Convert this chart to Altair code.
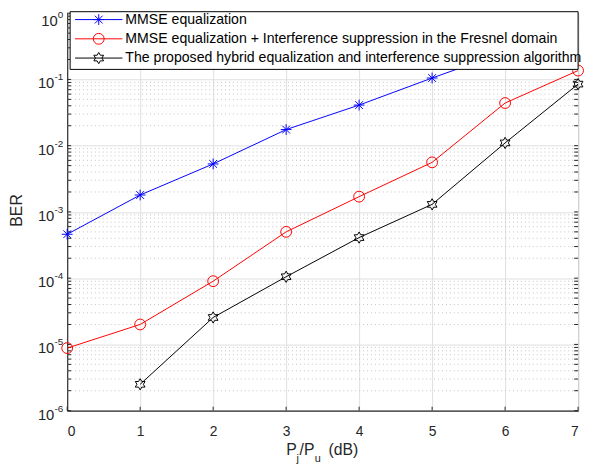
import math
import altair as alt
import pandas as pd

# ---------------- data ----------------
x_vals = [0, 1, 2, 3, 4, 5, 6]
mmse = [4.6e-4, 1.8e-3, 5.3e-3, 1.75e-2, 4.1e-2, 0.105, 0.26]
fresnel_x = [0, 1, 2, 3, 4, 5, 6, 7]
fresnel = [8.8e-6, 2.0e-5, 9.0e-5, 5.0e-4, 1.7e-3, 5.6e-3, 0.044, 0.136]
hybrid_x = [1, 2, 3, 4, 5, 6, 7]
hybrid = [2.5e-6, 2.55e-5, 1.05e-4, 4.1e-4, 1.3e-3, 0.011, 0.085]

labels = [
    "MMSE equalization",
    "MMSE equalization + Interference suppression in the Fresnel domain",
    "The proposed hybrid equalization and interference suppression algorithm",
]
x_ticks = [0, 1, 2, 3, 4, 5, 6, 7]
y_exponents = [-6, -5, -4, -3, -2, -1, 0]
y_major = [10.0 ** e for e in y_exponents]
y_minor = [m * 10.0 ** k for k in range(-6, 0) for m in range(2, 10)]

# ---------------- styles ----------------
W, H = 518, 403
AX = "#262626"
FONT = "Liberation Sans"

asterisk = "M-1,0L1,0M0,-1L0,1M-0.72,-0.72L0.72,0.72M-0.72,0.72L0.72,-0.72"
pts = []
for i in range(12):
    ang = math.pi / 2 + i * math.pi / 6
    r = 1.0 if i % 2 == 0 else 0.577
    pts.append((r * math.cos(ang), -r * math.sin(ang)))
hexagram = "M" + "L".join(f"{px:.3f},{py:.3f}" for px, py in pts) + "Z"

series = [
    (x_vals, mmse, "#0000ff", asterisk, 120),
    (fresnel_x, fresnel, "#ff0000", "circle", 120),
    (hybrid_x, hybrid, "#000000", hexagram, 130),
]

xscale = alt.Scale(domain=[0, 7], nice=False, zero=False)
yscale = alt.Scale(type="log", domain=[1e-6, 1], nice=False)

yaxis = alt.Axis(
    values=y_major, grid=True, gridColor="#dedede", gridWidth=1, ticks=False,
    labels=False, domainColor=AX, title=None,
)
xaxis = alt.Axis(
    values=x_ticks, grid=True, gridColor="#dedede", gridWidth=1, ticks=False,
    labelFontSize=14, labelColor=AX, labelPadding=14, labelFont=FONT,
    domainColor=AX, title=None, format="d",
)

X = lambda f: alt.X(f, scale=xscale, axis=xaxis)
Y = lambda f: alt.Y(f, scale=yscale, axis=yaxis)

layers = []

# minor grid (dotted)
minor_df = pd.DataFrame({"v": y_minor})
layers.append(
    alt.Chart(minor_df).mark_rule(color="#c4c4c4", strokeWidth=1, strokeDash=[1, 3]).encode(
        y=Y("v:Q"), x=alt.value(0), x2=alt.value(W),
    )
)

# inward x ticks at bottom
xt_df = pd.DataFrame({"t": x_ticks})
layers.append(
    alt.Chart(xt_df).mark_rule(color=AX, strokeWidth=1).encode(
        x=X("t:Q"), y=alt.value(H), y2=alt.value(H - 4),
    )
)

# inward y ticks, left and right
yt_df = pd.DataFrame({"v": y_major + y_minor})
for x0, x1 in [(0, 4), (W - 4, W)]:
    layers.append(
        alt.Chart(yt_df).mark_rule(color=AX, strokeWidth=1).encode(
            y=Y("v:Q"), x=alt.value(x0), x2=alt.value(x1),
        )
    )

# y tick labels: "10" with a raised exponent
for e, v in zip(y_exponents, y_major):
    d = pd.DataFrame({"v": [v]})
    exp_txt = str(e)
    exp_w = 5.6 * len(exp_txt.replace("-", "")) + (3.4 if e < 0 else 0)
    shift = 4 if e == 0 else 0
    layers.append(
        alt.Chart(d).mark_text(align="right", baseline="alphabetic", fontSize=10, font=FONT,
                               color=AX, dy=1 + shift).encode(
            y=Y("v:Q"), x=alt.value(-4), text=alt.value(exp_txt)
        )
    )
    layers.append(
        alt.Chart(d).mark_text(align="right", baseline="alphabetic", fontSize=15, font=FONT,
                               color=AX, dy=9 + shift).encode(
            y=Y("v:Q"), x=alt.value(-4 - exp_w), text=alt.value("10")
        )
    )

# data series
for xs, ys, color, shape, size in series:
    df = pd.DataFrame({"x": xs, "ber": ys})
    base = alt.Chart(df).encode(x=X("x:Q"), y=Y("ber:Q"))
    layers.append(base.mark_line(color=color, strokeWidth=1, clip=True))
    layers.append(
        base.mark_point(shape=shape, size=size, color=color, filled=False, strokeWidth=1, opacity=1)
    )

# legend
one = alt.Data(values=[{"a": 1}])
layers.append(
    alt.Chart(one).mark_rect(fill="white", stroke="#000000", strokeWidth=1).encode(
        x=alt.value(3), x2=alt.value(W), y=alt.value(-1.5), y2=alt.value(57)
    )
)
leg_y = [6.5, 26, 45.5]
for (xs, ys, color, shape, size), lab, yy in zip(series, labels, leg_y):
    layers.append(
        alt.Chart(one).mark_rule(color=color, strokeWidth=1).encode(
            x=alt.value(8), x2=alt.value(56), y=alt.value(yy)
        )
    )
    layers.append(
        alt.Chart(one).mark_point(shape=shape, size=size, color=color, filled=False, strokeWidth=1, opacity=1).encode(
            x=alt.value(32), y=alt.value(yy)
        )
    )
    layers.append(
        alt.Chart(one).mark_text(align="left", baseline="middle", fontSize=14.3, font=FONT, color="#000000").encode(
            x=alt.value(59), y=alt.value(yy), text=alt.value(lab)
        )
    )

# axis titles
layers.append(
    alt.Chart(one).mark_text(angle=270, align="center", baseline="middle", fontSize=16, font=FONT, color=AX).encode(
        x=alt.value(-51), y=alt.value(200), text=alt.value("BER")
    )
)
title_parts = [
    ("P", 222, 448, 16),
    ("j", 232.5, 455, 11),
    ("/", 235.5, 448, 16),
    ("P", 240, 448, 16),
    ("u", 251, 455, 11),
    ("(dB)", 265, 448, 16),
]
for txt, px, py, fs in title_parts:
    layers.append(
        alt.Chart(one).mark_text(align="left", baseline="alphabetic", fontSize=fs, font=FONT, color=AX).encode(
            x=alt.value(px), y=alt.value(py), text=alt.value(txt)
        )
    )

chart = (
    alt.layer(*layers)
    .properties(
        width=W, height=H,
        autosize=alt.AutoSizeParams(type="none"),
        padding={"left": 60, "top": 2, "right": 6, "bottom": 63},
    )
    .configure_view(stroke=AX, strokeWidth=1)
    .configure_axis(domainWidth=1)
)

chart.save("out.html", embed_options={"renderer": "svg", "actions": False})
